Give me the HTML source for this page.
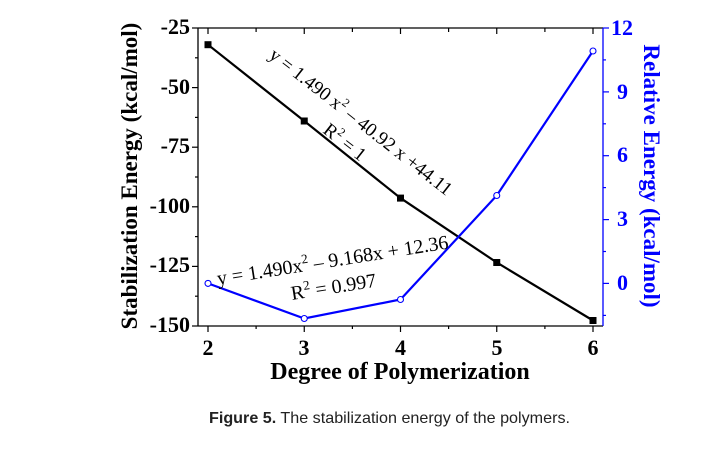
<!DOCTYPE html>
<html><head><meta charset="utf-8"><style>
body{margin:0;background:#fff;width:709px;height:458px;overflow:hidden}
svg{display:block}
</style></head><body>
<svg width="709" height="458" xmlns="http://www.w3.org/2000/svg" font-family="Liberation Serif, serif">
<line x1="198" y1="28" x2="198" y2="326" stroke="#000" stroke-width="1.3"/>
<line x1="198" y1="326" x2="603" y2="326" stroke="#000" stroke-width="1.3"/>
<line x1="198" y1="28" x2="603" y2="28" stroke="#000" stroke-width="1.3"/>
<line x1="603" y1="28" x2="603" y2="326" stroke="#00f" stroke-width="1.3"/>
<g stroke="#000" stroke-width="1.2">
<line x1="192" y1="28" x2="198" y2="28"/><line x1="192" y1="87.6" x2="198" y2="87.6"/>
<line x1="192" y1="147.2" x2="198" y2="147.2"/><line x1="192" y1="206.8" x2="198" y2="206.8"/>
<line x1="192" y1="266.4" x2="198" y2="266.4"/><line x1="192" y1="326" x2="198" y2="326"/>
<line x1="195" y1="57.8" x2="198" y2="57.8"/><line x1="195" y1="117.4" x2="198" y2="117.4"/>
<line x1="195" y1="177" x2="198" y2="177"/><line x1="195" y1="236.6" x2="198" y2="236.6"/>
<line x1="195" y1="296.2" x2="198" y2="296.2"/>
<line x1="208" y1="326" x2="208" y2="332"/><line x1="304.25" y1="326" x2="304.25" y2="332"/>
<line x1="400.5" y1="326" x2="400.5" y2="332"/><line x1="496.75" y1="326" x2="496.75" y2="332"/>
<line x1="593" y1="326" x2="593" y2="332"/>
<line x1="256.1" y1="326" x2="256.1" y2="329"/><line x1="352.4" y1="326" x2="352.4" y2="329"/>
<line x1="448.6" y1="326" x2="448.6" y2="329"/><line x1="544.9" y1="326" x2="544.9" y2="329"/>
<line x1="208" y1="28" x2="208" y2="34"/><line x1="304.25" y1="28" x2="304.25" y2="34"/>
<line x1="400.5" y1="28" x2="400.5" y2="34"/><line x1="496.75" y1="28" x2="496.75" y2="34"/>
<line x1="593" y1="28" x2="593" y2="34"/>
<line x1="256.1" y1="28" x2="256.1" y2="32"/><line x1="352.4" y1="28" x2="352.4" y2="32"/>
<line x1="448.6" y1="28" x2="448.6" y2="32"/><line x1="544.9" y1="28" x2="544.9" y2="32"/>
</g>
<g stroke="#00f" stroke-width="1.2">
<line x1="603" y1="28" x2="609" y2="28"/><line x1="603" y1="91.9" x2="609" y2="91.9"/>
<line x1="603" y1="155.7" x2="609" y2="155.7"/><line x1="603" y1="219.6" x2="609" y2="219.6"/>
<line x1="603" y1="283.4" x2="609" y2="283.4"/>
<line x1="603" y1="59.9" x2="606" y2="59.9"/><line x1="603" y1="123.8" x2="606" y2="123.8"/>
<line x1="603" y1="187.6" x2="606" y2="187.6"/><line x1="603" y1="251.5" x2="606" y2="251.5"/>
<line x1="603" y1="315.4" x2="606" y2="315.4"/>
</g>
<g font-size="22" font-weight="bold" text-anchor="end" fill="#000">
<text x="190" y="34">-25</text><text x="190" y="94">-50</text><text x="190" y="153">-75</text>
<text x="190" y="213">-100</text><text x="190" y="272">-125</text><text x="190" y="332">-150</text>
</g>
<g font-size="22" font-weight="bold" text-anchor="middle" fill="#000">
<text x="208" y="355">2</text><text x="304" y="355">3</text><text x="400.5" y="355">4</text>
<text x="497" y="355">5</text><text x="593" y="355">6</text>
</g>
<g font-size="22" font-weight="bold" text-anchor="start" fill="#00f">
<text x="611" y="35">12</text><text x="617" y="99">9</text><text x="617" y="162">6</text>
<text x="617" y="226">3</text><text x="617" y="290">0</text>
</g>
<text x="400" y="379" font-size="24" font-weight="bold" text-anchor="middle">Degree of Polymerization</text>
<text transform="translate(137,176) rotate(-90)" font-size="23" font-weight="bold" text-anchor="middle">Stabilization Energy (kcal/mol)</text>
<text transform="translate(644,176) rotate(90)" font-size="23" font-weight="bold" text-anchor="middle" fill="#00f">Relative Energy (kcal/mol)</text>
<polyline points="208,44.7 304.25,121 400.5,198.1 496.75,262.5 593,320.5" fill="none" stroke="#000" stroke-width="2.2"/>
<g fill="#000"><rect x="204.5" y="41.2" width="7" height="7"/><rect x="300.75" y="117.5" width="7" height="7"/>
<rect x="397" y="194.6" width="7" height="7"/><rect x="493.25" y="259" width="7" height="7"/><rect x="589.5" y="317" width="7" height="7"/></g>
<polyline points="208,283.4 304.25,318.5 400.5,299.5 496.75,195.5 593,51" fill="none" stroke="#00f" stroke-width="2.2"/>
<g fill="#fff" stroke="#00f" stroke-width="1.1">
<circle cx="208" cy="283.4" r="3"/><circle cx="304.25" cy="318.5" r="3"/><circle cx="400.5" cy="299.5" r="3"/>
<circle cx="496.75" cy="195.5" r="3"/><circle cx="593" cy="51" r="3"/></g>
<text transform="translate(268,57) rotate(38)" font-size="19">y = 1.490 x<tspan font-size="12" dy="-8">2</tspan><tspan dy="8"> – 40.92 x +44.11</tspan></text>
<text transform="translate(322,132) rotate(38)" font-size="19">R<tspan font-size="12" dy="-8">2</tspan><tspan dy="8"> = 1</tspan></text>
<text transform="translate(218,285) rotate(-9)" font-size="20">y = 1.490x<tspan font-size="13" dy="-8">2</tspan><tspan dy="8"> – 9.168x + 12.36</tspan></text>
<text transform="translate(292,300) rotate(-9)" font-size="20">R<tspan font-size="13" dy="-8">2</tspan><tspan dy="8"> = 0.997</tspan></text>
<text x="209" y="423" font-family="Liberation Sans, sans-serif" font-size="16" fill="#222" textLength="361" lengthAdjust="spacingAndGlyphs"><tspan font-weight="bold">Figure 5.</tspan> The stabilization energy of the polymers.</text>
</svg>
</body></html>
